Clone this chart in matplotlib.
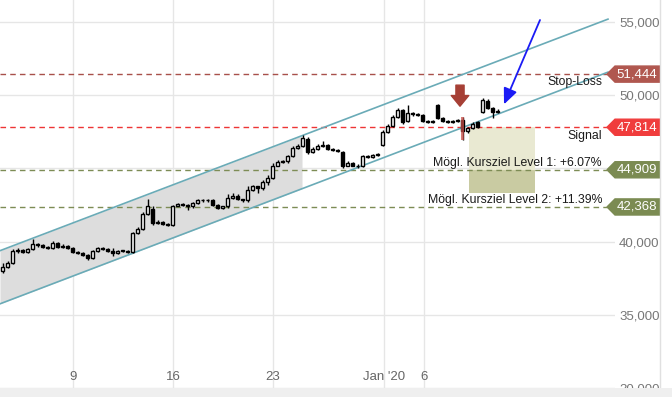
import numpy as np
import matplotlib
matplotlib.use("Agg")
import matplotlib.pyplot as plt
from matplotlib.patches import Polygon, Rectangle
from matplotlib.ticker import FuncFormatter

plt.rcParams['font.family'] = ['Liberation Sans', 'DejaVu Sans']

# hourly candles
opens = [38010, 38290, 38560, 39380, 39450, 39310, 39520, 39860, 39790, 39660,
         39590, 39930, 39660, 39720, 39590, 39310, 39250, 39110, 38900, 39380,
         39590, 39520, 39380, 39250, 39380, 39380, 39310, 40620, 40890, 41920,
         42260, 41300, 41370, 41230, 41160, 42460, 42600, 42530, 42400, 42670,
         42810, 42810, 42810, 42530, 42330, 42400, 43010, 43150, 42880, 42810,
         43560, 43770, 43630, 44040, 44380, 45200, 45410, 45480, 45820, 46370,
         46510, 46990, 46100, 46300, 46510, 46570, 46300, 46230, 46100, 45200,
         45340, 45200, 45140, 45820, 45750, 45890, 46570, 47470, 47880, 48490,
         48970, 48220, 48770, 48700, 48630, 48220, 48150, 49310, 48420, 48220,
         48150, 48220, 48290, 47530, 47740, 48150, 48830, 49590, 49110, 48830]
closes = [38290, 38560, 39380, 39450, 39310, 39520, 39860, 39790, 39660, 39590,
          39930, 39660, 39720, 39590, 39310, 39250, 39110, 38900, 39380, 39590,
          39520, 39380, 39250, 39380, 39380, 39310, 40620, 40890, 41920, 42460,
          41300, 41370, 41230, 41160, 42460, 42600, 42530, 42400, 42670, 42810,
          42810, 42810, 42530, 42330, 42400, 43010, 43150, 42880, 42810, 43560,
          43770, 43630, 44040, 44380, 45200, 45410, 45480, 45820, 46370, 46510,
          47050, 46100, 46300, 46510, 46570, 46300, 46230, 46160, 45140, 45340,
          45200, 45140, 45820, 45750, 45890, 45960, 47470, 47880, 48490, 48970,
          48150, 48770, 48700, 48630, 48220, 48150, 48220, 48420, 48220, 48150,
          48220, 48290, 47530, 47740, 48010, 47810, 49660, 49110, 48830, 48900]
highs = [38560, 38700, 39520, 39590, 39520, 39590, 40200, 39930, 39860, 39720,
         40070, 40000, 39860, 39790, 39660, 39380, 39310, 39180, 39450, 39660,
         39660, 39590, 39590, 39450, 39450, 39450, 40680, 41030, 42050, 42880,
         42400, 41510, 41440, 41300, 42530, 42670, 42670, 42600, 42740, 42940,
         42880, 42940, 42880, 42600, 42460, 43220, 43290, 43220, 42940, 43770,
         43900, 43830, 44180, 44520, 45340, 45550, 45550, 45890, 46510, 46640,
         47260, 47120, 46440, 46640, 46850, 46640, 46370, 46300, 46160, 45480,
         45410, 45270, 45890, 45890, 45960, 46030, 47600, 48010, 48630, 49110,
         49040, 49310, 48830, 48770, 48700, 48290, 48290, 49380, 48490, 48290,
         48290, 48360, 48490, 47810, 48150, 48220, 49790, 49730, 49180, 49040]
lows = [37880, 38220, 38490, 39250, 39250, 39250, 39450, 39660, 39590, 39520,
        39520, 39590, 39590, 39520, 39250, 39180, 39040, 38770, 38830, 39310,
        39450, 39310, 39040, 39180, 39310, 39250, 39250, 40550, 40820, 41850,
        41160, 41230, 41160, 41090, 41090, 42400, 42460, 42190, 42330, 42600,
        42740, 42740, 42460, 42260, 42260, 42330, 42940, 42810, 42740, 42740,
        43490, 43290, 43560, 43900, 44310, 45140, 45340, 45340, 45750, 46300,
        46440, 45960, 46030, 46230, 46440, 46230, 46160, 46100, 45000, 45140,
        45140, 45000, 45070, 45680, 45680, 45820, 46510, 47400, 47810, 48420,
        48010, 48150, 48560, 48560, 48150, 48080, 48080, 48360, 48150, 48080,
        48080, 48150, 46920, 47400, 47670, 47740, 48770, 49040, 48420, 48770]

tick_pos = [14.1, 34.1, 54.1, 76.3, 84.3]
tick_labels = ['9', '16', '23', "Jan '20", '6']
y_ticks = [30000, 35000, 40000, 45000, 50000, 55000]
y_hidden = [45000]  # sits under the 44,909 tag

channel_x = [-0.5, 121.1]
channel_upper = [39380, 55200]
channel_lower = [35750, 51580]
shade_end = 59.9

stop_loss = 51444
signal = 47814
target1 = 44909
target2 = 42368
target2_box_bottom = 43290
levels = [
    (stop_loss, '#b0574f', '#a8504a', 'Stop-Loss', -6),
    (signal, '#f03c3c', '#ee3535', 'Signal', -6),
    (target1, '#7b8b52', '#7d8c55', 'Mögl. Kursziel Level 1: +6.07%', 5),
    (target2, '#7b8b52', '#7d8c55', 'Mögl. Kursziel Level 2: +11.39%', 5),
]
box_x = [93.3, 106.5]
signal_idx = 92
signal_bar = [46920, 48490]
red_arrow = [50690, 49250]
blue_arrow_from = (107.5, 55140)
blue_arrow_to = (100.3, 49380)

fig = plt.figure(figsize=(6.72, 3.97), dpi=100)
ax = fig.add_axes([0, 9 / 397, 615 / 672, 388 / 397])
ax.set_xlim(-0.5, 122.5)
ax.set_ylim(30000, 56507)
for s in ax.spines.values():
    s.set_visible(False)

ax.set_yticks(y_ticks)
ax.yaxis.set_major_formatter(FuncFormatter(lambda v, p: '' if v in y_hidden else f'{int(v):,}'))
ax.yaxis.tick_right()
ax.tick_params(axis='y', length=0, pad=3, labelcolor='#777777', labelsize=9.5)
ax.set_xticks(tick_pos)
ax.set_xticklabels(tick_labels)
ax.tick_params(axis='x', length=0, pad=-12, labelcolor='#666666', labelsize=9.5)
ax.grid(True, color='#e6e6e6', lw=1)
ax.set_axisbelow(True)

# channel
xs = np.linspace(channel_x[0], shade_end, 50)
ax.fill_between(xs, np.interp(xs, channel_x, channel_lower),
                np.interp(xs, channel_x, channel_upper), color='#dddddd', lw=0, zorder=1)
ax.plot(channel_x, channel_upper, color='#6aabb7', lw=1.2, zorder=4)
ax.plot(channel_x, channel_lower, color='#6aabb7', lw=1.2, zorder=4)

# target boxes
ax.add_patch(Rectangle((box_x[0], target1), box_x[1] - box_x[0], signal - target1,
                       color='#e9e9d2', lw=0, zorder=1))
ax.add_patch(Rectangle((box_x[0], target2_box_bottom), box_x[1] - box_x[0],
                       target1 - target2_box_bottom, color='#c9cba2', lw=0, zorder=1))

# candles
idx = np.arange(len(closes))
o = np.array(opens)
c = np.array(closes)
ax.vlines(idx, lows, highs, color='black', lw=1, zorder=5)
up = c >= o
body = np.maximum(np.abs(c - o), 40)
ax.bar(idx[up], body[up], bottom=np.minimum(o, c)[up], width=0.7,
       facecolor='white', edgecolor='black', lw=1, zorder=6)
ax.bar(idx[~up], body[~up], bottom=np.minimum(o, c)[~up], width=0.7,
       facecolor='black', edgecolor='black', lw=1, zorder=6)

# levels, labels and price tags
tag_h = 550
for val, tag_col, line_col, label, off in levels:
    ax.plot([-0.5, 120.9], [val, val], color=line_col, lw=1, ls=(0, (4, 3)), zorder=3)
    ax.annotate(label, (119.9, val), xytext=(0, off), textcoords='offset points',
                ha='right', va='center', fontsize=8.8, color='#1a1a1a', zorder=7)
    tag = Polygon([(120.9, val), (122.5, val + tag_h), (131.5, val + tag_h),
                   (131.5, val - tag_h), (122.5, val - tag_h)],
                  closed=True, color=tag_col, clip_on=False, zorder=8)
    ax.add_patch(tag)
    ax.text(126.9, val, f'{val:,}', color='white', fontsize=9.5, ha='center',
            va='center', clip_on=False, zorder=9)

# signal marker
ax.bar(signal_idx, signal_bar[1] - signal_bar[0], bottom=signal_bar[0], width=0.6,
       color='#c8504a', alpha=0.75, lw=0, zorder=7)
ax.annotate('', xy=(91.5, red_arrow[1]), xytext=(91.5, red_arrow[0]),
            arrowprops=dict(arrowstyle='simple,head_length=0.55,head_width=0.9,tail_width=0.42',
                            color='#a63f35', mutation_scale=14, shrinkA=0, shrinkB=0), zorder=8)
ax.annotate('', xy=blue_arrow_to, xytext=blue_arrow_from,
            arrowprops=dict(arrowstyle='-|>,head_length=0.8,head_width=0.35',
                            color='#1b1bf5', lw=1.3, mutation_scale=12, shrinkA=0, shrinkB=0),
            zorder=8)

fig.patches.append(Rectangle((0, 0), 1, 9 / 397, transform=fig.transFigure,
                             color='#efefef', lw=0, zorder=10))
fig.lines.append(plt.Line2D([660 / 672, 660 / 672], [0, 1], transform=fig.transFigure,
                            color='#e0e0e0', lw=1))

fig.savefig('out.png', dpi=100)
